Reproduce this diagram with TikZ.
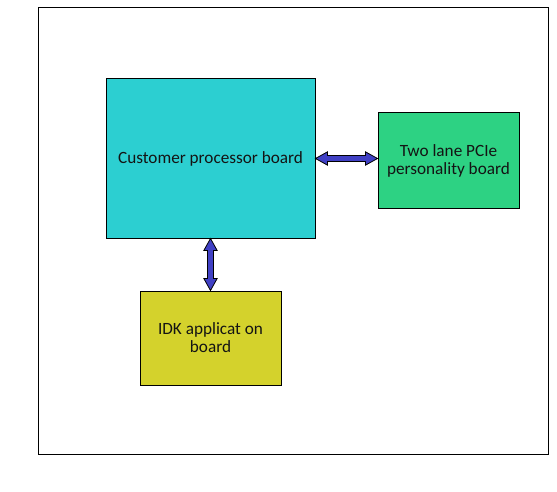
\documentclass[tikz,border=0pt]{standalone}
\usepackage{fontspec}
\setmainfont{Carlito}
\usepackage{tikz}
\usetikzlibrary{calc}
\definecolor{procfill}{HTML}{2CCFD1}
\definecolor{pciefill}{HTML}{2DD283}
\definecolor{idkfill}{HTML}{D4D22C}
\definecolor{linkblue}{HTML}{4040C4}
\definecolor{ink}{HTML}{141414}

\begin{document}
\begin{tikzpicture}[x=0.75pt,y=-0.75pt,
 board/.style={draw=black,line width=0.75pt,align=center,inner sep=2pt,text=ink,
  font=\fontsize{12.9}{13.5}\selectfont},
 barrow/.style={draw=black,fill=linkblue,line width=0.6pt,to path={
  -- ($(\tikztostart)!9pt!(\tikztotarget)!5pt!90:(\tikztotarget)$)
  -- ($(\tikztostart)!9pt!(\tikztotarget)!2.2pt!90:(\tikztotarget)$)
  -- ($(\tikztotarget)!9pt!(\tikztostart)!2.2pt!-90:(\tikztostart)$)
  -- ($(\tikztotarget)!9pt!(\tikztostart)!5pt!-90:(\tikztostart)$)
  -- (\tikztotarget)
  -- ($(\tikztotarget)!9pt!(\tikztostart)!5pt!90:(\tikztostart)$)
  -- ($(\tikztotarget)!9pt!(\tikztostart)!2.2pt!90:(\tikztostart)$)
  -- ($(\tikztostart)!9pt!(\tikztotarget)!2.2pt!-90:(\tikztotarget)$)
  -- ($(\tikztostart)!9pt!(\tikztotarget)!5pt!-90:(\tikztotarget)$)
  -- cycle}}
]
\useasboundingbox (0,0) rectangle (557,492);
\draw[line width=0.75pt] (38,8) rectangle (548,454);
\node[board,fill=procfill,minimum width=209*0.75pt,minimum height=159*0.75pt] (cust) at (210.5,158.5) {Customer processor board};
\node[board,fill=pciefill,minimum width=141*0.75pt,minimum height=95*0.75pt] (pcie) at (448.5,160.5) {Two lane PCIe\\personality board};
\node[board,fill=idkfill,minimum width=141*0.75pt,minimum height=94*0.75pt] (idk) at (210.5,338) {IDK applicat on\\board};
\draw[barrow] (cust.east) to (cust.east -| pcie.west);
\draw[barrow] (cust.south) to (cust.south |- idk.north);
\end{tikzpicture}
\end{document}
